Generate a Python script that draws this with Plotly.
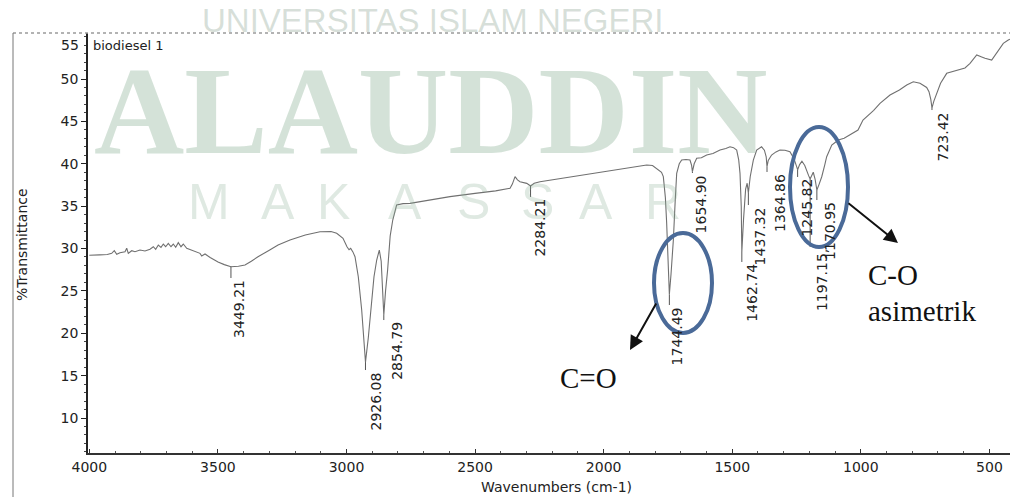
import plotly.graph_objects as go

# ---------------- data ----------------
wavenumber = [
    4000, 3989, 3960, 3930, 3912.8, 3902.7, 3893.4, 3880.6, 3861.1, 3854.5, 3848.3, 3835.1,
    3822.3, 3802.8, 3783.4, 3763.9, 3751.1, 3741.8, 3731.6, 3721.2, 3712.2, 3703, 3692.8,
    3682.3, 3673.3, 3664, 3653.9, 3643.4, 3634.4, 3621.2, 3601.8, 3569.5, 3562.9, 3550,
    3530, 3499.5, 3475, 3449.2, 3420, 3394.5, 3370, 3344, 3300, 3266, 3219.6, 3160, 3102.9,
    3060, 3038, 3013.5, 2998, 2990, 2983.6, 2975, 2966.8, 2954, 2940.8, 2930.7, 2926.08,
    2915, 2902, 2893, 2882.4, 2872.3, 2865, 2859, 2854.79, 2848, 2840, 2830, 2820, 2805,
    2780, 2753, 2700, 2650, 2597.4, 2500, 2420, 2364, 2355, 2344.6, 2335, 2325.3, 2299,
    2284.2, 2270, 2247.5, 2160, 2080, 2000, 1949, 1880, 1832.6, 1810, 1793.7, 1775, 1768,
    1760, 1755, 1750, 1744.49, 1738, 1729, 1722, 1716, 1706, 1696.6, 1680, 1664.3, 1658,
    1654.9, 1648, 1638.2, 1620, 1599.3, 1575, 1547.6, 1525, 1508.6, 1495, 1482.7, 1475,
    1469.8, 1465, 1462.74, 1456, 1448, 1442, 1437.32, 1430, 1418, 1405, 1386, 1375, 1368,
    1364.86, 1360, 1347, 1330, 1314.6, 1295, 1275.7, 1260, 1249, 1245.82, 1238, 1229, 1218,
    1210.6, 1203, 1197.15, 1190, 1185, 1178, 1170.95, 1162, 1152, 1140, 1132.8, 1113, 1087.6,
    1065, 1042, 1011, 991.6, 977.2, 950, 925.5, 886.6, 850, 821.6, 796, 770, 744, 735, 728,
    723.42, 716, 705, 690, 666.1, 640, 614.3, 595, 575.4, 549.4, 530, 517.2, 491.2, 471.7,
    460, 446, 426.6, 420,
]
transmittance = [
    29.2, 29.23, 29.25, 29.3, 29.43, 29.74, 29.32, 29.51, 29.62, 30.03, 29.43, 29.74,
    29.62, 29.82, 29.71, 29.91, 30.21, 29.91, 30.41, 30.14, 30.53, 30.21, 30.61,
    30.21, 30.53, 30.14, 30.69, 30.21, 30.53, 30.03, 29.82, 29.43, 29.12, 29.35,
    28.95, 28.41, 28.1, 27.85, 27.9, 28.05, 28.5, 29.03, 29.8, 30.41, 31.0, 31.6, 31.98,
    32.0, 31.8, 31.21, 30.2, 29.85, 30.02, 29.6, 29.03, 26.67, 22.74, 18.41, 16.6,
    19.5, 23.57, 26.67, 28.64, 29.82, 28.5, 25.5, 22.15, 25.0, 27.46, 31.5, 33.36, 35.13,
    35.3, 35.33, 35.6, 35.9, 36.12, 36.5, 36.8, 37.11, 37.6, 38.48, 38.1, 37.88, 37.69,
    37.38, 37.7, 37.88, 38.3, 38.67, 39.0, 39.26, 39.6, 39.85, 39.8, 39.47, 39.0, 38.48,
    36.0, 33.0, 29.0, 24.6, 27.0, 31.0, 35.5, 38.87, 40.0, 40.44, 40.5, 40.44, 39.8,
    39.06, 40.0, 40.65, 40.7, 41.03, 41.2, 41.62, 41.8, 42.0, 41.9, 41.62, 40.5,
    38.87, 35.0, 29.6, 33.5, 37.0, 37.7, 36.55, 38.5, 40.44, 41.62, 42.0, 41.6, 40.83,
    39.65, 40.4, 41.03, 41.4, 41.62, 41.6, 41.42, 40.6, 39.6, 39.3, 39.9, 40.3, 39.8,
    39.06, 38.6, 38.2, 38.7, 39.0, 38.2, 36.9, 37.6, 38.47, 39.9, 40.83, 42.2, 42.8,
    43.0, 43.4, 43.98, 45.16, 45.55, 46.3, 47.13, 48.11, 48.7, 49.29, 49.68, 49.5, 49.0, 48.5, 47.6,
    46.6, 47.4, 48.2, 49.5, 50.67, 50.9, 51.06, 51.3, 51.85, 52.83, 52.6, 52.44, 52.24, 53.03,
    53.6, 54.2, 54.6, 54.7,
]

peak_labels = ["3449.21", "2926.08", "2854.79", "2284.21", "1744.49", "1654.90", "1462.74",
               "1437.32", "1364.86", "1245.82", "1197.15,", "1170.95", "723.42"]
peak_wn = [3449.21, 2926.08, 2854.79, 2284.21, 1744.49, 1654.90, 1462.74,
           1437.32, 1364.86, 1245.82, 1197.15, 1170.95, 723.42]
peak_T = [27.85, 16.6, 22.15, 37.38, 24.6, 39.06, 29.6, 36.55, 39.65, 39.3, 38.2, 36.9, 46.6]

x_ticks = [4000, 3500, 3000, 2500, 2000, 1500, 1000, 500]
y_ticks = [10, 15, 20, 25, 30, 35, 40, 45, 50]

# ---------------- layout helpers (positions of labels) ----------------
label_top_T = [26.52, 15.66, 21.56, 36.08, 23.33, 38.91, 28.41, 35.13, 39.03, 38.44, 30.18, 35.72, 46.34]
label_xshift = [8, 11, 13, 9, 8, 9, 10, 12, 13, 9, 12, 13, 11]

W, H = 1010, 497
ML, MT, MB = 88, 33, 44
PW, PH = W - ML, H - MT - MB


def px(xp):
    return (xp - ML) / PW


def py(yp):
    return (H - MB - yp) / PH


TEXT = "#222222"
SANS = "DejaVu Sans, Arial, sans-serif"
WSANS = "Liberation Sans, Arial, sans-serif"
SERIF = "Liberation Serif, Times New Roman, serif"

fig = go.Figure()

fig.add_trace(go.Scatter(
    x=wavenumber, y=transmittance, mode="lines",
    line=dict(color="#707070", width=1.1), hoverinfo="skip", showlegend=False,
))

# peak marker lines
lx, ly = [], []
for wn, t, lt in zip(peak_wn, peak_T, label_top_T):
    lx += [wn, wn, None]
    ly += [t, lt, None]
fig.add_trace(go.Scatter(x=lx, y=ly, mode="lines", line=dict(color="#555555", width=1),
                         hoverinfo="skip", showlegend=False))


def pann(text, xp, yp, xa="center", ya="middle", **kw):
    d = dict(text=text, x=px(xp), y=py(yp), xref="paper", yref="paper", showarrow=False,
             xanchor=xa, yanchor=ya)
    d.update(kw)
    return d


ann = []
# watermark
ann.append(pann("UNIVERSITAS ISLAM NEGERI", 432, 20,
                font=dict(family=WSANS, size=33, color="rgba(150,172,156,0.38)")))
ann.append(pann("<b>ALAUDDIN</b>", 431, 111,
                font=dict(family=SERIF, size=125, color="rgba(120,165,135,0.32)")))
for letter, cx in zip("MAKASSAR", [209, 278, 333, 405, 473, 537, 596, 663]):
    ann.append(pann(letter, cx, 202, font=dict(family=WSANS, size=50, color="rgba(140,175,150,0.28)")))

# peak labels
for lab, wn, lt, xs in zip(peak_labels, peak_wn, label_top_T, label_xshift):
    ann.append(dict(text=lab, x=wn, y=lt, xref="x", yref="y", textangle=-90, showarrow=False,
                    xanchor="center", yanchor="top", xshift=xs,
                    font=dict(family=SANS, size=14, color=TEXT)))

ann.append(pann("biodiesel 1", 91, 45, xa="left", font=dict(family=SANS, size=13, color=TEXT)))
ann.append(pann("55", 81, 45, xa="right", font=dict(family=SANS, size=14, color=TEXT)))
ann.append(pann("%Transmittance", 22, 245, textangle=-90, font=dict(family=SANS, size=14, color=TEXT)))
ann.append(pann("Wavenumbers (cm-1)", 556, 487, font=dict(family=SANS, size=14, color=TEXT)))

# callouts
ann.append(pann("C=O", 588, 378, font=dict(family=SERIF, size=29, color="#111111")))
ann.append(pann("C-O", 866, 275, xa="left", font=dict(family=SERIF, size=29, color="#111111")))
ann.append(pann("asimetrik", 866, 311, xa="left", font=dict(family=SERIF, size=29, color="#111111")))
ann.append(dict(text="", x=px(630), y=py(350), xref="paper", yref="paper", showarrow=True,
                ax=27, ay=-48, arrowhead=2, arrowsize=1.4, arrowwidth=2, arrowcolor="#111111"))
ann.append(dict(text="", x=px(898), y=py(243), xref="paper", yref="paper", showarrow=True,
                ax=-51, ay=-41, arrowhead=2, arrowsize=1.4, arrowwidth=2, arrowcolor="#111111"))

shapes = [
    dict(type="circle", xref="paper", yref="paper", x0=px(654), x1=px(712), y0=py(333), y1=py(233),
         line=dict(color="#4a6a98", width=4), layer="above"),
    dict(type="circle", xref="paper", yref="paper", x0=px(790), x1=px(848), y0=py(247), y1=py(127),
         line=dict(color="#4a6a98", width=4), layer="above"),
    # outer printout frame
    dict(type="line", xref="paper", yref="paper", x0=px(13), x1=1.0, y0=py(33), y1=py(33),
         line=dict(color="#9a9a9a", width=1.5, dash="dot")),
    dict(type="line", xref="paper", yref="paper", x0=px(13), x1=px(13), y0=py(33), y1=py(497),
         line=dict(color="#777777", width=1)),
]

fig.update_layout(
    width=W, height=H,
    margin=dict(l=ML, r=0, t=MT, b=MB),
    paper_bgcolor="white", plot_bgcolor="white",
    annotations=ann, shapes=shapes, showlegend=False,
    xaxis=dict(range=[4005, 420], tickvals=x_ticks, showgrid=False, zeroline=False,
               showline=True, linecolor="#333333", linewidth=2, ticks="inside", ticklen=4,
               tickcolor="#333333", tickfont=dict(family=SANS, size=14, color=TEXT),
               minor=dict(ticks="inside", ticklen=2, dtick=100, tickcolor="#555555")),
    yaxis=dict(range=[5.87, 55.43], tickvals=y_ticks, showgrid=False, zeroline=False,
               showline=True, linecolor="#222222", linewidth=1.5, ticks="outside", ticklen=5,
               tickcolor="#222222", tickfont=dict(family=SANS, size=14, color=TEXT),
               minor=dict(ticks="outside", ticklen=2, dtick=1, tickcolor="#444444")),
)

fig.write_html("out.html", config={"displayModeBar": False},
               post_script="document.body.style.margin='0';")
